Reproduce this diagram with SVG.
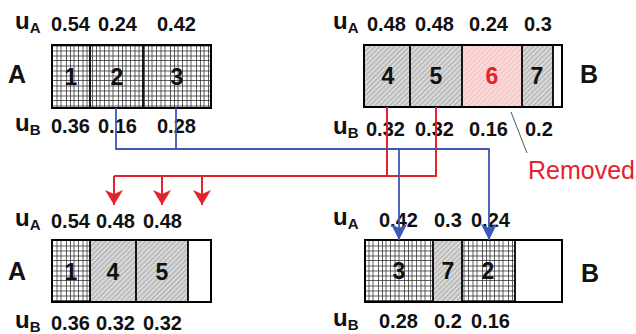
<svg xmlns="http://www.w3.org/2000/svg" width="636" height="334" viewBox="0 0 636 334">
<style>
text{font-family:"Liberation Sans",Arial,sans-serif;fill:#111}
.v{font-size:20px;font-weight:bold}
.u{font-size:24px;font-weight:bold}
.sub{font-size:15px;font-weight:bold}
.big{font-size:25px;font-weight:bold}
.num{font-size:23px;font-weight:bold;text-anchor:middle}
.box{fill:none;stroke:#000;stroke-width:2}
.div{stroke:#000;stroke-width:1.8}
.red{fill:none;stroke:#e5222b;stroke-width:2}
.blue{fill:none;stroke:#3d57b5;stroke-width:1.8}
</style>
<defs>
<pattern id="grid" width="26" height="20" patternUnits="userSpaceOnUse">
<rect width="26" height="20" fill="#fff"/>
<g stroke="#333" stroke-width="0.8">
<line x1="0.5" y1="0" x2="0.5" y2="20"/><line x1="5" y1="0" x2="5" y2="20"/><line x1="9" y1="0" x2="9" y2="20"/><line x1="14.5" y1="0" x2="14.5" y2="20"/><line x1="18.5" y1="0" x2="18.5" y2="20"/><line x1="22" y1="0" x2="22" y2="20"/>
<line x1="0" y1="0.5" x2="26" y2="0.5"/><line x1="0" y1="6" x2="26" y2="6"/><line x1="0" y1="11" x2="26" y2="11"/><line x1="0" y1="16" x2="26" y2="16"/>
</g>
</pattern>
<pattern id="hatch" width="3.5" height="3.5" patternUnits="userSpaceOnUse" patternTransform="rotate(45)">
<rect width="3.5" height="3.5" fill="#d6d6d6"/>
<line x1="0" y1="0" x2="0" y2="3.5" stroke="#888" stroke-width="1"/>
</pattern>
<pattern id="hatchpink" width="3.5" height="3.5" patternUnits="userSpaceOnUse" patternTransform="rotate(45)">
<rect width="3.5" height="3.5" fill="#fbd9d9"/>
<line x1="0" y1="0" x2="0" y2="3.5" stroke="#eeaaaa" stroke-width="1"/>
</pattern>
<marker id="ar" viewBox="0 0 18 15" refX="9" refY="15" markerWidth="18" markerHeight="15" markerUnits="userSpaceOnUse" orient="0">
<path d="M0,0 L9,15 L18,0 L9,4 Z" fill="#e5222b"/>
</marker>
<marker id="ab" viewBox="0 0 16 16" refX="8" refY="16" markerWidth="16" markerHeight="16" markerUnits="userSpaceOnUse" orient="0">
<path d="M0,0 L8,16 L16,0 L8,4 Z" fill="#3d57b5"/>
</marker>
</defs>

<g id="topA">
<text class="big" x="8" y="83">A</text>
<text class="u" x="15" y="29">u<tspan class="sub" dy="3.5">A</tspan></text>
<text class="v" x="51" y="31">0.54</text><text class="v" x="98" y="31">0.24</text><text class="v" x="157" y="31">0.42</text>
<rect x="52" y="45" width="159" height="63" fill="url(#grid)"/>
<line class="div" x1="90" y1="45" x2="90" y2="108"/><line class="div" x1="143" y1="45" x2="143" y2="108"/>
<rect class="box" x="52" y="45" width="159" height="63"/>
<text class="num" x="71" y="85">1</text><text class="num" x="117" y="85">2</text><text class="num" x="177" y="85">3</text>
<text class="u" x="15" y="131">u<tspan class="sub" dy="3.5">B</tspan></text>
<text class="v" x="51" y="133">0.36</text><text class="v" x="98" y="133">0.16</text><text class="v" x="157" y="133">0.28</text>
</g>

<g id="topB">
<text class="u" x="333" y="29">u<tspan class="sub" dy="3.5">A</tspan></text>
<text class="v" x="367" y="31">0.48</text><text class="v" x="415" y="31">0.48</text><text class="v" x="469" y="31">0.24</text><text class="v" x="524" y="31">0.3</text>
<rect x="364" y="45" width="98" height="62" fill="url(#hatch)"/>
<rect x="462" y="45" width="60" height="62" fill="url(#hatchpink)"/>
<rect x="522" y="45" width="31" height="62" fill="url(#hatch)"/>
<rect x="553" y="45" width="9" height="62" fill="#fff"/>
<line class="div" x1="410" y1="45" x2="410" y2="107"/><line class="div" x1="462" y1="45" x2="462" y2="107"/><line class="div" x1="522" y1="45" x2="522" y2="107"/><line class="div" x1="553" y1="45" x2="553" y2="107"/>
<rect class="box" x="364" y="45" width="198" height="62"/>
<text class="num" x="388" y="84">4</text><text class="num" x="436" y="84">5</text><text class="num" x="492" y="84" style="fill:#e5222b">6</text><text class="num" x="537" y="84">7</text>
<text class="big" x="580" y="83">B</text>
<text class="u" x="333" y="134">u<tspan class="sub" dy="3.5">B</tspan></text>
<text class="v" x="366" y="136">0.32</text><text class="v" x="415" y="136">0.32</text><text class="v" x="469" y="136">0.16</text><text class="v" x="525" y="136">0.2</text>
</g>

<g id="removed">
<line x1="511" y1="112" x2="527" y2="153" stroke="#555" stroke-width="1"/>
<text x="528" y="179" style="font-size:25px;fill:#e5222b">Removed</text>
</g>

<g id="bottomA">
<text class="u" x="15" y="226">u<tspan class="sub" dy="3.5">A</tspan></text>
<text class="v" x="51" y="228">0.54</text><text class="v" x="96" y="228">0.48</text><text class="v" x="143" y="228">0.48</text>
<rect x="52" y="240" width="38" height="62" fill="url(#grid)"/>
<rect x="90" y="240" width="98" height="62" fill="url(#hatch)"/>
<rect x="188" y="240" width="23" height="62" fill="#fff"/>
<line class="div" x1="90" y1="240" x2="90" y2="302"/><line class="div" x1="136" y1="240" x2="136" y2="302"/><line class="div" x1="188" y1="240" x2="188" y2="302"/>
<rect class="box" x="52" y="240" width="159" height="62"/>
<text class="num" x="71" y="280">1</text><text class="num" x="113" y="280">4</text><text class="num" x="162" y="280">5</text>
<text class="big" x="8" y="280">A</text>
<text class="u" x="15" y="328">u<tspan class="sub" dy="3.5">B</tspan></text>
<text class="v" x="51" y="330">0.36</text><text class="v" x="96" y="330">0.32</text><text class="v" x="143" y="330">0.32</text>
</g>

<g id="bottomB">
<text class="u" x="333" y="225">u<tspan class="sub" dy="3.5">A</tspan></text>
<text class="v" x="379" y="227">0.42</text><text class="v" x="434" y="227">0.3</text><text class="v" x="471" y="227">0.24</text>
<rect x="365" y="240" width="68" height="62" fill="url(#grid)"/>
<rect x="433" y="240" width="29" height="62" fill="url(#hatch)"/>
<rect x="462" y="240" width="53" height="62" fill="url(#grid)"/>
<rect x="515" y="240" width="47" height="62" fill="#fff"/>
<line class="div" x1="433" y1="240" x2="433" y2="302"/><line class="div" x1="462" y1="240" x2="462" y2="302"/><line class="div" x1="515" y1="240" x2="515" y2="302"/>
<rect class="box" x="365" y="240" width="197" height="62"/>
<text class="num" x="399" y="279">3</text><text class="num" x="448" y="279">7</text><text class="num" x="488" y="279">2</text>
<text class="big" x="581" y="282">B</text>
<text class="u" x="333" y="326">u<tspan class="sub" dy="3.5">B</tspan></text>
<text class="v" x="379" y="328">0.28</text><text class="v" x="434" y="328">0.2</text><text class="v" x="471" y="328">0.16</text>
</g>

<g id="connectors">
<path class="red" d="M387,107 V176 M436,107 V176 H114"/>
<path class="red" d="M114,176 V205" marker-end="url(#ar)"/>
<path class="red" d="M162,176 V205" marker-end="url(#ar)"/>
<path class="red" d="M202,176 V205" marker-end="url(#ar)"/>
<path class="blue" d="M176,108 V149 H399 V240" marker-end="url(#ab)"/>
<path class="blue" d="M116,108 V149 H489 V240" marker-end="url(#ab)"/>
</g>
</svg>
